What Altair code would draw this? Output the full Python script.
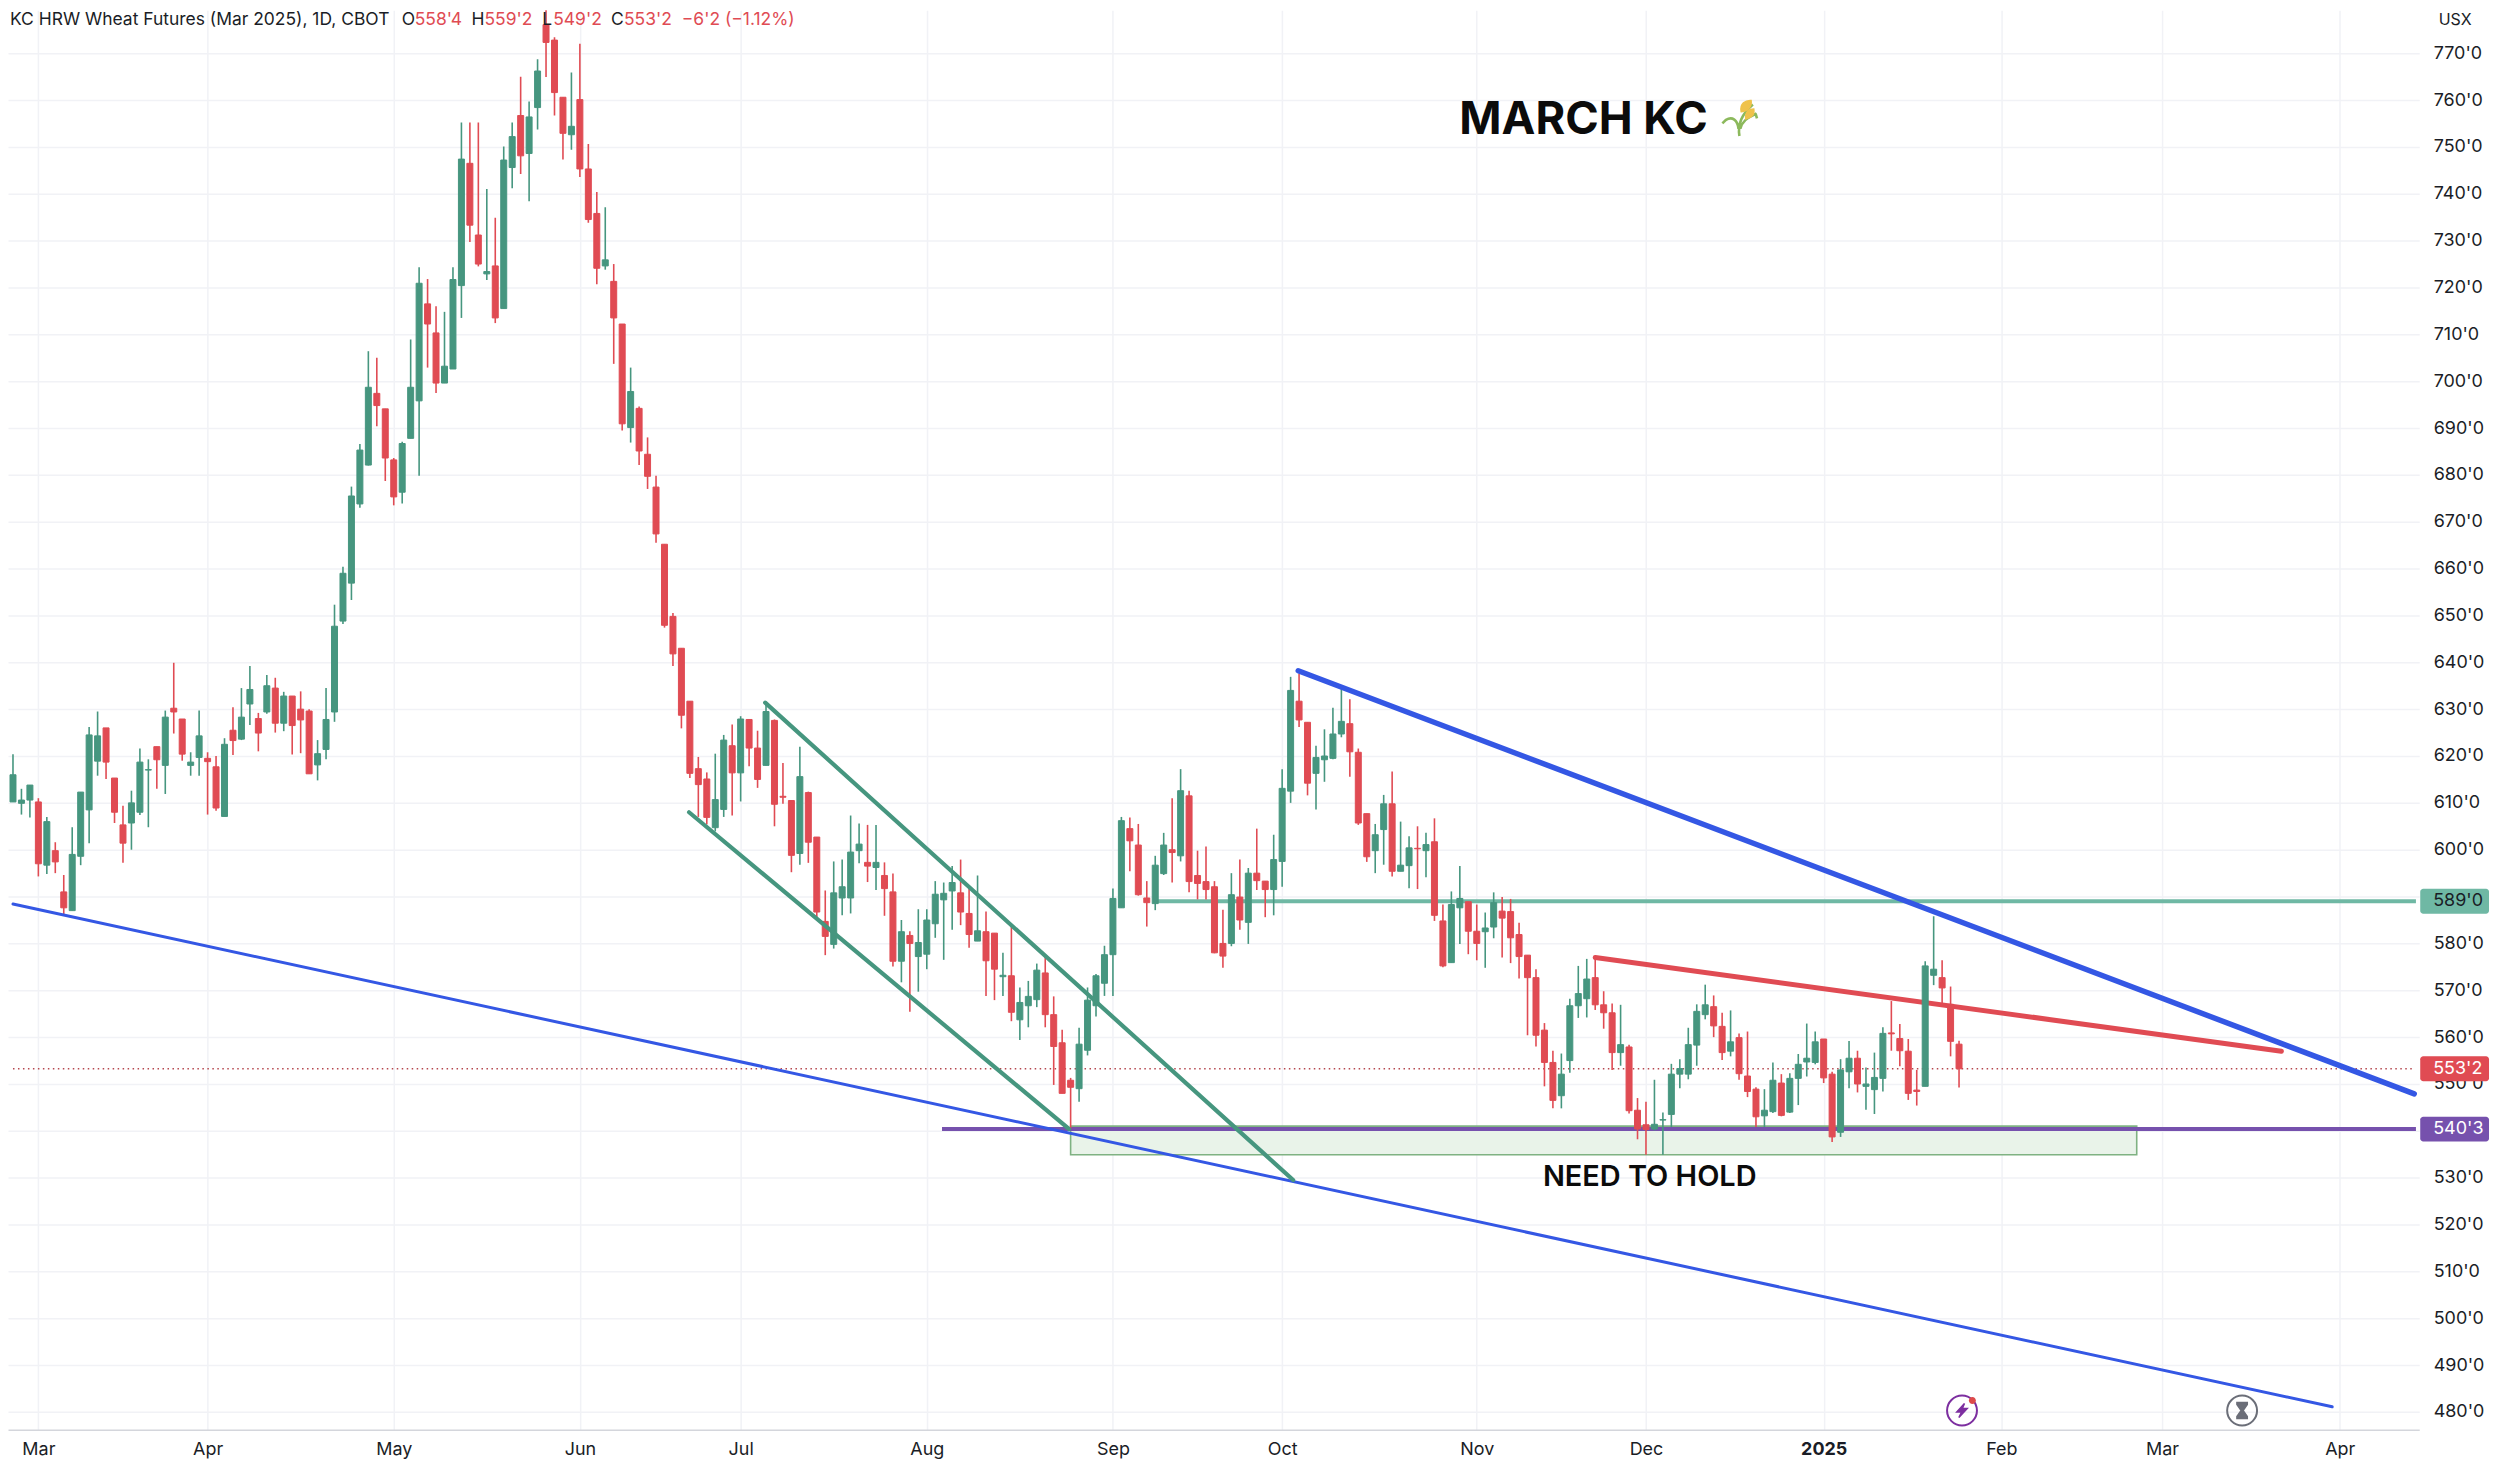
import altair as alt
import pandas as pd

opens = [
610.2,609.9,610.6,610.2,596.7,599.8,591,587,598.6,608.5,
618.9,626,615.3,605.3,605.7,608,617,622,618,630.2,
627.9,618,619.7,619.5,617.7,607.1,625.5,623.6,631.1,628,
629.4,634.5,627,632.8,630,629.6,618.1,621.4,629.4,648.8,
656.9,673.8,682.1,697.4,694.1,683.2,676.3,687.8,695.8,716.5,
710.3,699.6,702.6,720.4,746.5,731.2,722.9,724.6,715.5,745.6,
756.7,748.6,758.4,776.1,772.8,760.6,752.6,760.1,745.3,735.8,
724.6,721.3,712.2,690.1,694.2,684.4,677.4,665.2,649.8,643,
631.7,617.3,615.1,604.7,608.6,622.2,616.4,627.8,621.7,618,
627.6,611.4,610.5,599.2,612.2,602.7,584.7,579.8,589.7,589.7,
599.8,597.3,596.2,594.5,591,576.2,581.7,577.2,577.7,584.2,
589.3,591.2,590.8,586.4,580.5,582.5,582.2,572.9,573.1,563.7,
566.7,568,573.7,564.8,558.8,550.8,549,557.2,566.7,571.5,
577.6,587.6,604.5,601,589.7,588.5,594.9,600,598.7,611.5,
594.5,593.2,592.1,580,580,589.9,584.5,595,593.3,591.5,
597.5,612.5,631.7,627.2,616.3,619.2,619.5,624.7,626.9,620.8,
607.7,599.8,604.3,609.8,595.4,596.6,600.3,599.8,601.7,584.8,
575.9,587.6,588.9,582.6,582.5,583.5,586.9,586.8,581.9,577.5,
572.7,561.5,554.6,547.5,555,566.7,568.2,572.7,566.9,565.2,
556.7,557.9,544.4,541.3,540.4,542.3,543.5,552.1,552.1,558.3,
564.8,566.5,562.3,557,559.9,551.7,548.9,543.2,544.1,550.2,
544,551.2,554.7,554.6,559.6,552.1,539.7,552.6,555.5,549.5,
548.8,551.2,560.9,559.7,557,548.7,549.5,573.2,572.7,567,
558.5]
highs = [
620.4,613,613.8,611,607,601.6,594.6,604.8,612.3,626.2,
629.5,626,615.3,609.4,612.6,621.6,619.3,622,629.7,639.9,
627.9,620.8,629.7,620.8,620,623.8,630.4,634.5,639.2,629.2,
637.3,636.7,633.7,632.8,633.8,630,623.4,634.5,652.3,660.4,
677.5,686.6,706.4,705,694.1,683.6,687.1,708.9,724.3,721.8,
716,714.8,724.3,755.2,755.2,755.2,741,734.9,750.1,755.2,
765,759.7,768.7,781,773.4,760.6,765.9,772,750.6,740.4,
737.1,725,712.2,702.9,694.6,688,679.8,665.2,650.5,643,
631.7,619.8,616.5,620.5,624.5,626.7,628.5,627.8,625.4,631.2,
627.8,618.5,610.5,622,612.4,602.7,591.3,597.5,597.9,607.3,
605.6,605.3,605.3,597.3,594.9,585,582.6,587.3,587.3,593.3,
593,596.5,597.9,592.1,594.5,586.8,582.2,578,583.7,570.6,
572,575.7,577.5,568.7,561.6,551.3,562,570.6,573.5,579.5,
591.7,607,606.9,605.5,593.3,598.7,603.6,611,617.2,612.6,
599.8,600.7,593.3,587.2,595,597.9,596.1,604.5,593.3,603.2,
617.2,636.9,637.6,627.2,622.2,625.7,630.3,634.4,632.1,621.6,
607.7,605.5,611.7,616.7,606,602.9,605,603.6,606.7,588.3,
591.1,596.5,588.9,588.3,586.6,590.9,589.9,589.5,584.4,577.5,
574.5,563,557.1,556.5,568.2,575.2,576.7,576.8,569.8,567.2,
566.9,558.4,547,546.2,550.9,543.9,554.3,555.3,562,567,
571.2,568.9,565.2,565.7,560.8,561.2,549.3,548.9,554.6,552.1,
552.3,556.4,562.9,561.2,559.6,552.6,555.3,559.2,557.1,553.5,
556.7,562.1,567.7,562.8,559.6,553,576.2,585.8,576.4,570.8,
559.25]
lows = [
610.2,607.5,606.9,594.3,594.8,595,586.2,587,596.7,601.4,
615.8,615.1,605.7,597.2,600,607.4,604.8,613,611.9,624.8,
619,615.8,615.8,607.5,608.3,607.1,620.2,623.4,626.6,621,
629,625,625.3,620.3,620.6,616.2,614.8,619.3,627.3,648.2,
653.3,673,682,690.4,678.7,673.5,673.9,687.8,679.8,702.9,
697.5,699.6,702.6,713.5,729.7,724.5,721.6,712.4,715.5,741.2,
744.2,738.4,753.7,764.9,756.7,747.3,749.4,743.6,733.8,720.7,
723.8,703.7,689.5,686.9,682.1,677,665.5,647.4,639.2,625.9,
615.3,607,605.4,603.9,607,607.3,610.3,617.8,613.2,618,
605,609.8,595.2,596.8,597.2,585,577.5,578.9,586,586.4,
597.1,593.1,591.4,585.9,575.1,571.7,565.4,569.7,574.5,581.2,
576.5,582.9,583.9,579.1,580.5,568.8,567.9,568.8,563.4,559.4,
562.1,566.4,562.1,549.8,548,540.5,546.2,556.1,564.4,568.8,
568.8,587.6,595.4,590.2,583.6,587.1,594.6,593,597.5,590.9,
589.4,589.4,577.9,574.8,579.4,582.9,579.9,591.4,585.6,586,
592.1,610,626.2,611.6,608.6,614.5,619.3,624,615.6,605.3,
597.4,595,596.8,594.3,595.4,591.8,591.6,594.1,584.8,574.9,
575.9,579.9,577.7,576.4,574.8,581.1,577,575.8,572.5,560.4,
558,549.5,544.8,544.8,552.4,564.1,564.2,565.8,561.8,553,
553.9,543.7,538.2,534.9,540.1,534.9,540.8,549.1,551,553.9,
563.8,560,555.1,555.9,550.9,547.2,540.8,540.8,543.8,543.1,
543.8,545.5,551.6,554.2,550.2,537.6,538.7,549.1,548.2,544.5,
543.6,548.4,557.1,553.8,546.6,545.4,549.5,571.1,567.2,555.9,
549.25]
closes = [
616,610.6,613.8,597,606,597.4,587.6,599,612.3,624.5,
624.3,618.7,608,601.4,610,618.7,617.1,619.2,628.3,629.4,
620.4,618.7,624.3,618.8,608.9,622.5,623.3,628.3,634.2,624.9,
635,627,632.8,626.5,627.7,616.2,620.5,627.8,647.7,659,
675.5,685.3,698.7,694.8,683.6,675.3,686.7,698.7,720.9,712.2,
699.6,703.2,721.7,747.4,733.3,725,723.4,713.5,747.2,752.2,
748.1,756.4,766.2,772.3,761.6,752.9,754.4,745.3,734.5,724.1,
725.9,713.5,690.9,697.8,685.1,679.7,667.4,647.9,641.8,628.7,
616.3,613.9,606.9,610.7,623.4,616.4,627.9,621.7,615,629.5,
609.7,611.2,598.8,615.6,601.6,586.7,581.5,590.8,592.1,599.5,
601.2,596.5,597.3,591.7,576.2,582.5,580,580.2,585,590.5,
590.7,593,586.7,581.9,582.7,576.3,574.5,573.2,565.3,567.4,
568.7,574.3,564.8,558,548,549.3,558.5,567.9,573.1,577.6,
589.6,606.2,601.9,590.4,588.7,596.7,601,599.4,612.6,593.2,
592.8,591.5,578,577.3,590.4,585,595,593.4,591.5,597.9,
613.1,634,627.7,614.2,619.7,620,624.7,627.4,620.9,605.7,
598.5,603.2,609.8,595.4,596.7,600.4,600.2,601.1,586,575.2,
588.3,589.6,582.6,580,583.3,588.7,585.4,581.2,577.2,572.7,
560.4,554.6,546.5,552.1,566.7,569.3,572.4,566.9,565.2,556.7,
558.4,544.3,540.4,540.3,541.4,542.4,552.1,553.3,558.4,565.5,
566.9,562.4,556.7,559,552.2,548.4,543,544.4,550.8,543.3,
551.2,554.2,555.5,559,551.3,538.7,553,555.5,550,550,
551.4,560.8,560.7,557.1,548,548.4,575.2,574.5,570.5,559.1,
553.25]

month_names = ["Mar","Apr","May","Jun","Jul","Aug","Sep","Oct","Nov","Dec","2025","Feb","Mar","Apr"]
month_bars = [3,23,45,67,86,108,130,150,173,193,214,235,254,275]
price_ticks = list(range(480, 780, 10))

last_price = 553.25
support_price = 540.375
resistance_price = 589.0
zone_bars = [125, 251]
zone_prices = [541.0, 534.9]
support_bars = [109.8, 284]
resistance_bars = [135, 284]

support_fan_bars = [0, 274.1]
support_fan_prices = [588.4, 481.1]
down_blue_bars = [151.9, 283.8]
down_blue_prices = [638.2, 547.9]
down_red_bars = [187, 268.1]
down_red_prices = [577, 557]
chan_top_bars = [88.9, 151.3]
chan_top_prices = [631.4, 529.5]
chan_low_bars = [79.9, 124.8]
chan_low_prices = [608, 540.4]

RED = "#e04b53"
GREEN = "#46967f"
TEAL = "#6fb8a4"
PURPLE = "#7651ad"
BLUE = "#3457e4"
INK = "#1a1d26"

W, H = 2419, 1424
FONT = "Inter"

bars = pd.DataFrame({"i": range(len(opens)), "o": opens, "h": highs, "l": lows, "c": closes})
bars["dir"] = ["up" if c >= o else "down" for o, c in zip(opens, closes)]

xs = alt.Scale(domain=[0, 283.8], nice=False, zero=False)
ys = alt.Scale(domain=[476.2, 779.15], nice=False, zero=False)
col = alt.Color("dir:N", scale=alt.Scale(domain=["up", "down"], range=[GREEN, RED]), legend=None)

label_map = ",".join(f"'{b}':'{n}'" for b, n in zip(month_bars, month_names))
x_axis = alt.Axis(values=month_bars, title=None, ticks=False, domain=True, domainColor="#d4d6dc", domainWidth=1.5,
                  grid=True, gridColor="#f1f2f6", gridWidth=1.5, labelFont=FONT, labelFontSize=18, labelColor=INK,
                  labelPadding=11, labelExpr="{" + label_map + "}[datum.value]",
                  labelFontWeight=alt.expr("datum.value==214 ? 700 : 400"), labelOverlap=False, labelFlush=False)
y_axis = alt.Axis(values=price_ticks, orient="right", title=None, ticks=False, domain=False, grid=True,
                  gridColor="#f1f2f6", gridWidth=1.5, labelFont=FONT, labelFontSize=18, labelColor=INK,
                  labelPadding=14, labelAlign="left", labelExpr="format(datum.value,'d') + \"'0\"", labelOverlap=False)

def X(f):
    return alt.X(f, scale=xs, axis=x_axis)

def Y(f):
    return alt.Y(f, scale=ys, axis=y_axis)

def hline(price, b, color, width):
    d = pd.DataFrame({"a": b, "p": [price, price]})
    return alt.Chart(d).mark_line(color=color, strokeWidth=width, clip=True).encode(x=X("a:Q"), y=Y("p:Q"))

def trend(b, p, color, width):
    d = pd.DataFrame({"a": b, "p": p})
    return alt.Chart(d).mark_line(color=color, strokeWidth=width, strokeCap="round", clip=True).encode(x=X("a:Q"), y=Y("p:Q"))

def note(text, x, y, size, color=INK, weight=400, align="left", font=FONT):
    return alt.Chart(pd.DataFrame({"t": [text]})).mark_text(
        font=font, fontSize=size, color=color, fontWeight=weight, align=align, baseline="middle"
    ).encode(x=alt.value(x - 8), y=alt.value(y - 8), text="t:N")

def icon(path, x, y, size, fill=None, stroke=None, sw=1.5):
    kw = {"shape": path, "size": size, "opacity": 1, "strokeWidth": sw}
    kw["filled"] = fill is not None
    if fill is not None:
        kw["fill"] = fill
        kw["stroke"] = stroke if stroke else fill
    else:
        kw["stroke"] = stroke
    return alt.Chart(pd.DataFrame({"t": [0]})).mark_point(**kw).encode(x=alt.value(x - 8), y=alt.value(y - 8))

def price_tag(price, text, fill, tcolor):
    d = pd.DataFrame({"p": [price], "t": [text]})
    box = alt.Chart(d).mark_rect(fill=fill, width=69, height=25, cornerRadius=3).encode(
        x=alt.value(2462.5 - 8), y=Y("p:Q"))
    txt = alt.Chart(d).mark_text(font=FONT, fontSize=18, color=tcolor, align="left", baseline="middle").encode(
        x=alt.value(2441 - 8), y=Y("p:Q"), text="t:N")
    return [box, txt]

dotted = alt.Chart(pd.DataFrame({"a": [0, 283.8], "p": [last_price, last_price]})).mark_line(
    color="#b5474e", strokeWidth=1.4, strokeDash=[1.5, 3.5], clip=True
).encode(x=X("a:Q"), y=Y("p:Q"))

zone = alt.Chart(pd.DataFrame({"a": [zone_bars[0]], "b": [zone_bars[1]], "p": [zone_prices[0]], "q": [zone_prices[1]]})).mark_rect(
    fill="#e9f3e9", stroke="#7fb282", strokeWidth=1.6
).encode(x=X("a:Q"), x2="b:Q", y=Y("p:Q"), y2="q:Q")

wicks = alt.Chart(bars).mark_rule(strokeWidth=1.6, clip=True).encode(
    x=X("i:Q"), y=Y("l:Q"), y2="h:Q", color=col)
bodies = alt.Chart(bars).mark_bar(size=6, strokeWidth=1, clip=True).encode(
    x=X("i:Q"), y=Y("o:Q"), y2="c:Q", color=col, stroke=col)

wheat_stalks = "M0.0,1 C-0.1,0.4 0.1,-0.2 0.75,-0.75 M0.05,0.6 C0.15,0.2 0.4,0 0.95,-0.25 M-0.05,0.6 C-0.1,0.1 -0.4,-0.1 -0.75,0.1 L-0.95,0.3 M0.9,-0.25 L0.98,0.02"
wheat_ears = "M0.1,-0.35 C0.0,-0.8 0.35,-1 0.65,-0.98 C0.7,-0.65 0.5,-0.4 0.1,-0.35 Z M0.35,0.05 C0.3,-0.35 0.55,-0.5 0.8,-0.5 C0.85,-0.2 0.7,0 0.35,0.05 Z"
ring = "M1,0 A1,1 0 1 1 -1,0 A1,1 0 1 1 1,0 Z"
bolt = "M0.35,-1 L-0.75,0.2 L-0.05,0.2 L-0.45,1 L0.75,-0.3 L0.05,-0.3 Z"
hourglass = "M-0.65,-1 L0.65,-1 L0.65,-0.75 L0.12,0 L0.65,0.75 L0.65,1 L-0.65,1 L-0.65,0.75 L-0.12,0 L-0.65,-0.75 Z"

HEAD_Y = 18
HEAD = 17.5
layers = [
    dotted,
    zone,
    hline(support_price, support_bars, PURPLE, 4),
    hline(resistance_price, resistance_bars, TEAL, 4),
    trend(down_red_bars, down_red_prices, RED, 5),
    wicks,
    bodies,
    trend(support_fan_bars, support_fan_prices, BLUE, 3),
    trend(chan_top_bars, chan_top_prices, GREEN, 4.2),
    trend(chan_low_bars, chan_low_prices, GREEN, 4.2),
    trend(down_blue_bars, down_blue_prices, BLUE, 5.5),
    *price_tag(resistance_price, "589'0", TEAL, INK),
    *price_tag(last_price, "553'2", RED, "#ffffff"),
    *price_tag(support_price, "540'3", PURPLE, "#ffffff"),
    note("KC HRW Wheat Futures (Mar 2025), 1D, CBOT", 10, HEAD_Y, HEAD),
    note("O", 403, HEAD_Y, HEAD),
    note("558'4", 416, HEAD_Y, HEAD, RED),
    note("H", 473, HEAD_Y, HEAD),
    note("559'2", 486, HEAD_Y, HEAD, RED),
    note("L", 544, HEAD_Y, HEAD),
    note("549'2", 555, HEAD_Y, HEAD, RED),
    note("C", 613, HEAD_Y, HEAD),
    note("553'2", 626, HEAD_Y, HEAD, RED),
    note("\u22126'2 (\u22121.12%)", 684, HEAD_Y, HEAD, RED),
    note("USX", 2463, HEAD_Y, 16, align="center"),
    note("MARCH KC", 1464, 118, 45.5, "#0b0b0b", 700),
    note("NEED TO HOLD", 1655, 1178, 29, "#0b0b0b", 600, align="center"),
    icon(wheat_stalks, 1745, 116, 1296, stroke="#8cb95c", sw=2.6),
    icon(wheat_ears, 1745, 116, 1296, fill="#efc24b"),
    icon(ring, 1968.3, 1412.7, 900, stroke="#7d2fa0", sw=2),
    icon(bolt, 1968.3, 1412.7, 196, fill="#7d2fa0"),
    icon(ring, 1978.7, 1402.7, 49, fill="#dd4a4a", stroke="#ffffff", sw=0),
    icon(ring, 2249.3, 1412.7, 900, stroke="#6b6e78", sw=2),
    icon(hourglass, 2249.3, 1412.7, 256, fill="#6b6e78"),
]

chart = alt.layer(*layers).properties(
    width=W, height=H,
    padding={"left": 0, "top": 0, "right": 73, "bottom": 35},
    autosize=alt.AutoSizeParams(type="none"),
    background="#ffffff",
).configure_view(stroke=None)

chart.save("out.html", embed_options={"renderer": "svg", "actions": False})
